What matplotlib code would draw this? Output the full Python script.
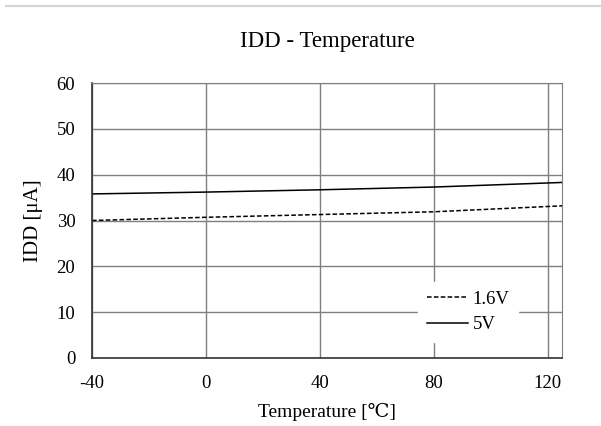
import matplotlib
matplotlib.use("Agg")
import matplotlib.pyplot as plt
from matplotlib.lines import Line2D

# data
temps = [-40, 0, 40, 80, 125]
idd_1v6 = [30.0, 30.7, 31.3, 31.9, 33.2]
idd_5v = [35.8, 36.2, 36.7, 37.3, 38.3]
x_ticks = [-40, 0, 40, 80, 120]
y_ticks = [0, 10, 20, 30, 40, 50, 60]

plt.rcParams['font.family'] = ['Liberation Serif', 'DejaVu Serif', 'Noto Sans CJK JP']
plt.rcParams['axes.unicode_minus'] = False

fig = plt.figure(figsize=(6.01, 4.26), dpi=100)
ax = fig.add_axes([92 / 601, 1 - 358 / 426, 470 / 601, 275 / 426])

# faint border line at the top of the image
fig.add_artist(Line2D([6 / 601, 1.0], [1 - 6 / 426, 1 - 6 / 426],
                      color='#d4d4d4', lw=1.5, transform=fig.transFigure))

ax.plot(temps, idd_1v6, color='black', lw=1.1, ls=(0, (3, 1.5)), label='1.6V')
ax.plot(temps, idd_5v, color='black', lw=1.1, label='5V')

ax.set_xlim(-40, 125)
ax.set_ylim(0, 60)
ax.set_xticks(x_ticks)
ax.set_yticks(y_ticks)
ax.grid(True, color='#7f7f7f', lw=1.0)
ax.set_axisbelow(True)
ax.tick_params(length=0, labelsize=13.5, pad=12)

for side in ['top', 'right']:
    ax.spines[side].set_color('#7f7f7f')
for side in ['left', 'bottom']:
    ax.spines[side].set_color('#333333')
    ax.spines[side].set_linewidth(1.2)

ax.set_title('IDD - Temperature', fontsize=16.5, pad=26)
ax.set_xlabel('Temperature [\u2103]', fontsize=14, labelpad=8)
ax.set_ylabel('IDD [\u03bcA]', fontsize=15, labelpad=10)

leg = ax.legend(loc='lower right', bbox_to_anchor=(0.926, 0.025), frameon=True,
                fontsize=13.5, handlelength=2.2, handletextpad=0.25,
                labelspacing=0.45, borderpad=0.45, fancybox=False)
leg.get_frame().set_edgecolor('white')
leg.get_frame().set_facecolor('white')
leg.get_frame().set_alpha(1)

fig.savefig('out.png', dpi=100)
